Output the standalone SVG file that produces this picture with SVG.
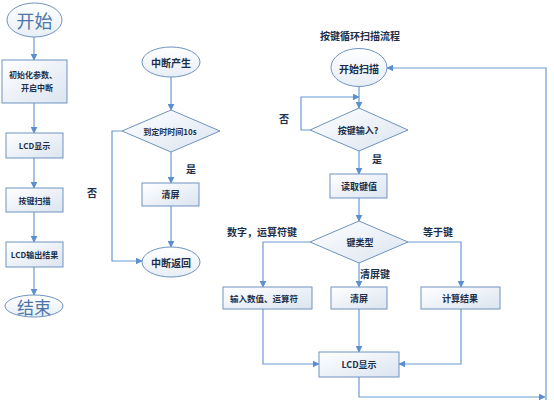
<svg xmlns="http://www.w3.org/2000/svg" width="554" height="407" viewBox="0 0 554 407">
<defs>
<linearGradient id="bg" x1="0" y1="0" x2="1" y2="1">
<stop offset="0" stop-color="#ffffff"/>
<stop offset="1" stop-color="#dbe4f0"/>
</linearGradient>
<linearGradient id="eg" x1="0" y1="0" x2="0" y2="1">
<stop offset="0" stop-color="#ffffff"/>
<stop offset="1" stop-color="#e8eef6"/>
</linearGradient>
<marker id="ah" viewBox="0 0 10 10" refX="9" refY="5" markerWidth="7" markerHeight="7" markerUnits="userSpaceOnUse" orient="auto">
<path d="M0,0 L10,5 L0,10 z" fill="#5b8fd0"/>
</marker>
</defs>
<style>
.box{fill:url(#bg);stroke:#6f93c0;stroke-width:1}
.ell{fill:url(#eg);stroke:#6f93c0;stroke-width:1}
.ln{fill:none;stroke:#6a9bd6;stroke-width:1.2}
.t{font-family:"Noto Sans CJK SC","Noto Sans",sans-serif;font-weight:bold;fill:#1c2f4a;text-anchor:middle;dominant-baseline:central}
.big{font-family:"Noto Sans CJK SC","Noto Sans",sans-serif;fill:#4a76a8;text-anchor:middle;dominant-baseline:central}
.lb{font-family:"Noto Sans CJK SC","Noto Sans",sans-serif;font-weight:bold;fill:#1c2f4a;font-size:10px;dominant-baseline:central}
</style>
<rect width="554" height="407" fill="#ffffff"/>

<g id="connectors">
<path class="ln" d="M34,37 V60" marker-end="url(#ah)"/>
<path class="ln" d="M34,103 V133" marker-end="url(#ah)"/>
<path class="ln" d="M34,158 V188" marker-end="url(#ah)"/>
<path class="ln" d="M34,212 V242" marker-end="url(#ah)"/>
<path class="ln" d="M34,267 V295" marker-end="url(#ah)"/>

<path class="ln" d="M171,77 V110" marker-end="url(#ah)"/>
<path class="ln" d="M171,152 V183" marker-end="url(#ah)"/>
<path class="ln" d="M171,206 V247" marker-end="url(#ah)"/>
<path class="ln" d="M122,131 H112 V261 H142" marker-end="url(#ah)"/>

<path class="ln" d="M359,87 V108" marker-end="url(#ah)"/>
<path class="ln" d="M310,130 H301 V97 H359" marker-end="url(#ah)"/>
<path class="ln" d="M359,151 V174" marker-end="url(#ah)"/>
<path class="ln" d="M359,198 V221" marker-end="url(#ah)"/>
<path class="ln" d="M310,242 H263 V287" marker-end="url(#ah)"/>
<path class="ln" d="M408,242 H461 V287" marker-end="url(#ah)"/>
<path class="ln" d="M359,263 V287" marker-end="url(#ah)"/>
<path class="ln" d="M263,309 V364 H319" marker-end="url(#ah)"/>
<path class="ln" d="M359,309 V352" marker-end="url(#ah)"/>
<path class="ln" d="M461,309 V364 H399" marker-end="url(#ah)"/>
<path class="ln" d="M359,377 V397 H545" marker-end="url(#ah)"/>
<path class="ln" d="M546,400 V68 H387" marker-end="url(#ah)"/>
</g>

<g id="start"><ellipse class="ell" cx="34.5" cy="20" rx="27.5" ry="17"/><text class="big" x="34.5" y="20" font-size="18">开始</text></g>
<g id="init"><rect class="box" x="2" y="60" width="65" height="43"/><text class="t" x="33" y="74" font-size="8">初始化参数、</text><text class="t" x="37" y="87" font-size="8">开启中断</text></g>
<g id="lcd1"><rect class="box" x="6" y="133" width="57" height="25"/><text class="t" x="34.5" y="145.5" font-size="8">LCD显示</text></g>
<g id="scan"><rect class="box" x="6" y="188" width="57" height="24"/><text class="t" x="34.5" y="200" font-size="8">按键扫描</text></g>
<g id="lcdout"><rect class="box" x="6" y="242" width="57" height="25"/><text class="t" x="34.5" y="254.5" font-size="8">LCD输出结果</text></g>
<g id="end"><ellipse class="ell" cx="34" cy="306" rx="29" ry="11"/><text class="big" x="34" y="306" font-size="17">结束</text></g>

<g id="int"><ellipse class="ell" cx="171" cy="62" rx="29" ry="15"/><text class="t" x="171" y="62" font-size="10">中断产生</text></g>
<g id="timer"><polygon class="box" points="171,110 220,131 171,152 122,131"/><text class="t" x="170" y="131" font-size="8">到定时时间10s</text></g>
<g id="clr1"><rect class="box" x="142" y="183" width="57" height="23"/><text class="t" x="170.5" y="194.5" font-size="9">清屏</text></g>
<g id="iret"><ellipse class="ell" cx="171" cy="262" rx="29" ry="15"/><text class="t" x="171" y="262" font-size="10">中断返回</text></g>
<text class="lb" x="186" y="168">是</text>
<text class="lb" x="87" y="192">否</text>

<text class="t" x="360" y="35" font-size="10">按键循环扫描流程</text>
<g id="sscan"><ellipse class="ell" cx="359" cy="67.5" rx="28" ry="19"/><text class="t" x="359" y="68" font-size="10">开始扫描</text></g>
<g id="keyin"><polygon class="box" points="359,108 408,130 359,151 310,130"/><text class="t" x="358" y="130" font-size="9">按键输入?</text></g>
<text class="lb" x="279" y="118">否</text>
<text class="lb" x="372" y="158">是</text>
<g id="read"><rect class="box" x="330" y="174" width="57" height="24"/><text class="t" x="359" y="186" font-size="9">读取键值</text></g>
<g id="ktype"><polygon class="box" points="359,221 408,242 359,263 310,242"/><text class="t" x="360" y="242" font-size="9">键类型</text></g>
<text class="lb" x="227" y="231">数字，运算符键</text>
<text class="lb" x="423" y="231">等于键</text>
<text class="lb" x="360" y="273">清屏键</text>
<g id="inp"><rect class="box" x="223" y="287" width="89" height="22"/><text class="t" x="264" y="298" font-size="8.5">输入数值、运算符</text></g>
<g id="clr2"><rect class="box" x="331" y="287" width="56" height="22"/><text class="t" x="359" y="298" font-size="9">清屏</text></g>
<g id="calc"><rect class="box" x="421" y="287" width="79" height="22"/><text class="t" x="460" y="298" font-size="9">计算结果</text></g>
<g id="lcd2"><rect class="box" x="319" y="352" width="80" height="25"/><text class="t" x="359" y="364.5" font-size="9">LCD显示</text></g>
</svg>
